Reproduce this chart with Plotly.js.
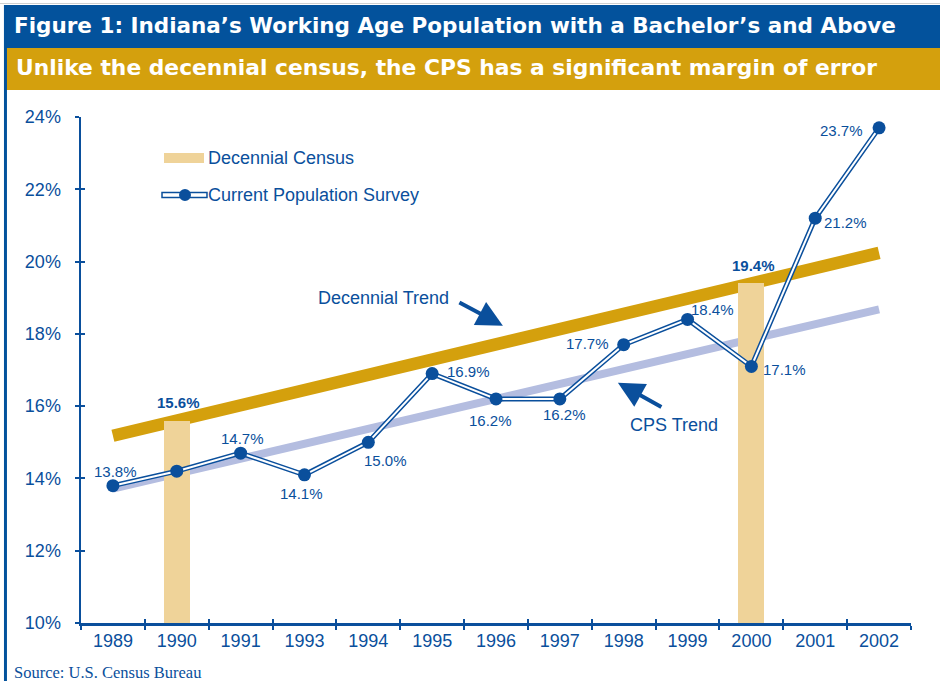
<!DOCTYPE html>
<html>
<head>
<meta charset="utf-8">
<script src="https://cdn.plot.ly/plotly-3.0.1.min.js"></script>
<style>
html,body{margin:0;padding:0;background:#fff;}
#chart{width:940px;height:681px;}
</style>
</head>
<body>
<div id="chart"></div>
<script>
// ---- data ----
const years = ['1989','1990','1991','1993','1994','1995','1996','1997','1998','1999','2000','2001','2002'];
const cpsValues = [13.8,14.2,14.7,14.1,15.0,16.9,16.2,16.2,17.7,18.4,17.1,21.2,23.7];
const censusYears = ['1990','2000'];
const censusValues = [15.6,19.4];
const trendYears = ['1989','2002'];
const decennialTrend = [15.18,20.24];
const cpsTrend = [13.72,18.68];
const yTickVals = [10,12,14,16,18,20,22,24];
// label offsets (px) for CPS data labels, [xshift, yshift]
const cpsLabelShift = [[3,14],null,[2,15],[-3,-19],[17,-18],[36,2],[-6,-22],[5,-16],[-36,1],[25,10],[33,-3],[30,-4],[-38,-3]];

const BLUE = '#0A4F9C';
const GOLD = '#D4A00D';
const TAN = '#EFD399';
const LAV = '#B4BDE0';
const FONT = 'Liberation Sans, Arial, Helvetica, sans-serif';

const traces = [
  {type:'scatter', mode:'lines', x: trendYears, y: cpsTrend, xaxis:'x', yaxis:'y',
   line:{color:LAV, width:8}, hoverinfo:'skip', showlegend:false, name:'CPS Trend'},
  {type:'scatter', mode:'lines', x: trendYears, y: decennialTrend, xaxis:'x', yaxis:'y',
   line:{color:GOLD, width:12.5}, hoverinfo:'skip', showlegend:false, name:'Decennial Trend'},
  {type:'bar', x: censusYears, y: censusValues, xaxis:'x2', yaxis:'y2', width:0.41,
   marker:{color:TAN, line:{width:0}}, showlegend:false, name:'Decennial Census'},
  {type:'scatter', mode:'lines', x: years, y: cpsValues, xaxis:'x2', yaxis:'y2',
   line:{color:BLUE, width:5}, showlegend:false, hoverinfo:'skip', name:'Current Population Survey'},
  {type:'scatter', mode:'lines+markers', x: years, y: cpsValues, xaxis:'x2', yaxis:'y2',
   line:{color:'#FFFFFF', width:2}, marker:{color:BLUE, size:13}, showlegend:false, name:'Current Population Survey'}
];

const annotations = [];
cpsValues.forEach((v,i)=>{
  const s = cpsLabelShift[i];
  if(!s) return;
  annotations.push({x: i, y: v, xref:'x', yref:'y', text: v.toFixed(1)+'%', showarrow:false,
    xshift:s[0], yshift:s[1], font:{family:FONT, size:15, color:BLUE}});
});
censusValues.forEach((v,i)=>{
  annotations.push({x: years.indexOf(censusYears[i]), y: v, xref:'x', yref:'y', text: '<b>'+v.toFixed(1)+'%</b>', showarrow:false,
    xshift:2, yshift:18, font:{family:FONT, size:15, color:BLUE}});
});
// trend callouts
annotations.push({x:4.237, y:19.0, xref:'x', yref:'y', text:'Decennial Trend', showarrow:false,
  font:{family:FONT, size:18, color:BLUE}});
annotations.push({x:8.786, y:15.485, xref:'x', yref:'y', text:'CPS Trend', showarrow:false,
  font:{family:FONT, size:18, color:BLUE}});
annotations.push({x:6.108, y:18.227, xref:'x', yref:'y', text:'', showarrow:true, ax:-45, ay:-24,
  arrowcolor:BLUE, arrowwidth:4, arrowhead:2, arrowsize:1.3, standoff:0});
annotations.push({x:7.909, y:16.648, xref:'x', yref:'y', text:'', showarrow:true, ax:45, ay:25,
  arrowcolor:BLUE, arrowwidth:4, arrowhead:2, arrowsize:1.3, standoff:0});
// legend text
annotations.push({x:0.1506, y:0.919, xref:'paper', yref:'paper', xanchor:'left', yanchor:'middle',
  text:'Decennial Census', showarrow:false, font:{family:FONT, size:18, color:BLUE}});
annotations.push({x:0.1506, y:0.8458, xref:'paper', yref:'paper', xanchor:'left', yanchor:'middle',
  text:'Current Population Survey', showarrow:false, font:{family:FONT, size:18, color:BLUE}});
// subtitle
annotations.push({x:-0.0807, y:1.0988, xref:'paper', yref:'paper', xanchor:'left', yanchor:'middle',
  text:'<b>Unlike the decennial census, the CPS has a significant margin of error</b>', showarrow:false,
  font:{family:'DejaVu Sans, sans-serif', size:21.8, color:'#FFFFFF'}});
// source
annotations.push({x:-0.0831, y:-0.0985, xref:'paper', yref:'paper', xanchor:'left', yanchor:'middle',
  text:'Source: U.S. Census Bureau', showarrow:false,
  font:{family:'Liberation Serif, Times New Roman, serif', size:16.5, color:BLUE}});

const shapes = [
  {type:'rect', xref:'paper', yref:'paper', x0:-0.0928, x1:1.04, y0:1.1364, y1:1.2213, fillcolor:'#03529C', line:{width:0}, layer:'below'},
  {type:'rect', xref:'paper', yref:'paper', x0:-0.0928, x1:1.04, y0:1.0534, y1:1.1364, fillcolor:GOLD, line:{width:0}, layer:'below'},
  {type:'rect', xref:'paper', yref:'paper', x0:-0.0928, x1:-0.0892, y0:-0.12, y1:1.2213, fillcolor:'#03529C', line:{width:0}, layer:'below'},
  {type:'line', xref:'paper', yref:'paper', x0:-0.0976, x1:1.04, y0:1.2243, y1:1.2243, line:{color:'#D0D0D0', width:1}, layer:'below'},
  // legend swatches
  {type:'rect', xref:'paper', yref:'paper', x0:0.1, x1:0.1482, y0:0.9091, y1:0.9289, fillcolor:TAN, line:{width:0}},
  {type:'rect', xref:'paper', yref:'paper', x0:0.0976, x1:0.1518, y0:0.8409, y1:0.8508, fillcolor:'#FFFFFF', line:{color:BLUE, width:1.5}},
  {type:'circle', xref:'paper', yref:'paper', x0:0.1181, x1:0.1325, y0:0.834, y1:0.8577, fillcolor:BLUE, line:{width:0}}
];

const axisFont = {family:FONT, size:18, color:BLUE};
const layout = {
  width:940, height:681,
  margin:{l:81, r:29, t:117, b:58},
  paper_bgcolor:'#FFFFFF', plot_bgcolor:'rgba(0,0,0,0)',
  showlegend:false,
  title:{text:'<b>Figure 1: Indiana’s Working Age Population with a Bachelor’s and Above</b>',
    x:0.0149, xanchor:'left', xref:'container', y:0.962, yanchor:'middle', yref:'container',
    font:{family:'DejaVu Sans, sans-serif', size:21.5, color:'#FFFFFF'}},
  xaxis:{type:'category', categoryorder:'array', categoryarray:years, range:[-0.5,12.5],
    showline:true, linecolor:BLUE, linewidth:2.5, ticks:'outside', tickson:'boundaries',
    ticklen:4, tickwidth:2, tickcolor:BLUE, tickfont:axisFont, showgrid:false, zeroline:false, fixedrange:true},
  yaxis:{range:[10,24], tickvals:yTickVals, ticktext:yTickVals.map(v=>v+'%'),
    showline:true, linecolor:BLUE, linewidth:2.5, ticks:'outside', ticklen:4, tickwidth:2, tickcolor:BLUE,
    tickfont:axisFont, showgrid:false, zeroline:false, ticklabelstandoff:10, fixedrange:true},
  xaxis2:{type:'category', categoryorder:'array', categoryarray:years, range:[-0.5,12.5], overlaying:'x', anchor:'y2',
    ticks:'inside', tickson:'boundaries', ticklen:4, tickwidth:2, tickcolor:BLUE, showticklabels:false,
    showline:false, showgrid:false, zeroline:false, fixedrange:true},
  yaxis2:{range:[10,24], tickvals:yTickVals, overlaying:'y', side:'left', anchor:'x2', ticks:'inside', ticklen:4, tickwidth:2,
    tickcolor:BLUE, showticklabels:false, showline:false, showgrid:false, zeroline:false, fixedrange:true},
  annotations: annotations,
  shapes: shapes,
  bargap:0
};

Plotly.newPlot('chart', traces, layout, {displayModeBar:false, staticPlot:true});
</script>
</body>
</html>
